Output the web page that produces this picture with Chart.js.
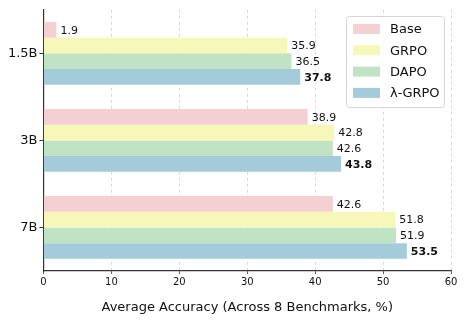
<!DOCTYPE html>
<html>
<head>
<meta charset="utf-8">
<script src="https://cdn.jsdelivr.net/npm/chart.js@4"></script>
<style>
  html, body { margin: 0; padding: 0; background: #fff; }
  #wrap { width: 465px; height: 325px; }
</style>
</head>
<body>
<div id="wrap"><canvas id="accuracy"></canvas></div>
<script>
const models = ['1.5B', '3B', '7B'];
const methods = ['Base', 'GRPO', 'DAPO', 'λ-GRPO'];
const baseAcc = [1.9, 38.9, 42.6];
const grpoAcc = [35.9, 42.8, 51.8];
const dapoAcc = [36.5, 42.6, 51.9];
const lambdaAcc = [37.8, 43.8, 53.5];
const xTicks = [0, 10, 20, 30, 40, 50, 60];
const colors = ['#f4d0d3', '#f7f7b9', '#c0e3c3', '#a3cbd9'];

const font = "'DejaVu Sans', sans-serif";
const ctx = document.getElementById('accuracy').getContext('2d');

// value labels next to each bar, last series in bold
const valueLabels = {
    id: 'valueLabels',
    afterDatasetsDraw(chart) {
        const c = chart.ctx;
        c.save();
        c.textBaseline = 'middle';
        c.textAlign = 'left';
        c.fillStyle = '#111';
        chart.data.datasets.forEach((ds, i) => {
            const meta = chart.getDatasetMeta(i);
            c.font = (i === 3 ? 'bold ' : '') + '11px ' + font;
            meta.data.forEach((bar, j) => {
                c.fillText(ds.data[j].toFixed(1), bar.x + 4, bar.y + 1);
            });
        });
        c.restore();
    }
};

// matplotlib style legend box in the upper right corner
const boxLegend = {
    id: 'boxLegend',
    afterDraw(chart) {
        const c = chart.ctx;
        const x = 346, y = 16, w = 98, h = 91;
        c.save();
        c.fillStyle = 'rgba(255,255,255,0.85)';
        c.strokeStyle = '#d6d6d6';
        c.lineWidth = 1;
        c.beginPath();
        c.roundRect(x + 0.5, y + 0.5, w, h, 3);
        c.fill();
        c.stroke();
        c.font = '13px ' + font;
        c.textBaseline = 'middle';
        chart.data.datasets.forEach((ds, i) => {
            const cy = y + 13 + i * 21.3;
            c.fillStyle = ds.backgroundColor;
            c.fillRect(x + 7, cy - 5, 27, 10);
            c.fillStyle = '#111';
            c.fillText(ds.label, x + 44, cy + 1);
        });
        c.restore();
    }
};

const series = [baseAcc, grpoAcc, dapoAcc, lambdaAcc];

new Chart(ctx, {
    type: 'bar',
    data: {
        labels: models,
        datasets: methods.map((m, i) => ({
            label: m,
            data: series[i],
            backgroundColor: colors[i],
            borderWidth: 0,
            categoryPercentage: 0.72,
            barPercentage: 1.0
        }))
    },
    options: {
        indexAxis: 'y',
        responsive: true,
        maintainAspectRatio: false,
        animation: false,
        layout: { padding: { top: 9, right: 14, left: 0, bottom: 0 } },
        plugins: {
            legend: { display: false },
            tooltip: { enabled: false }
        },
        scales: {
            x: {
                min: 0,
                max: 60,
                afterBuildTicks: s => { s.ticks = xTicks.map(v => ({ value: v })); },
                afterFit: s => { s.height = 54; },
                border: { display: true, color: '#333', width: 1.2, dash: [3, 3] },
                grid: {
                    color: ctx => ctx.tick && ctx.tick.value === 0 ? 'rgba(0,0,0,0)' : '#cfcfcf',
                    lineWidth: 0.8,
                    drawTicks: true,
                    tickLength: 3,
                    tickColor: '#333',
                    tickBorderDash: []
                },
                ticks: {
                    color: '#111',
                    font: { family: font, size: 10 },
                    padding: 2,
                    maxRotation: 0
                },
                title: {
                    display: true,
                    text: 'Average Accuracy (Across 8 Benchmarks, %)',
                    color: '#111',
                    font: { family: font, size: 13 },
                    padding: { top: 6, bottom: 10 }
                }
            },
            y: {
                afterFit: s => { s.width = 43.5; },
                border: { display: true, color: '#333', width: 1.2 },
                grid: {
                    display: true,
                    offset: false,
                    drawOnChartArea: false,
                    tickLength: 4,
                    tickColor: '#333'
                },
                ticks: {
                    color: '#111',
                    font: { family: font, size: 13 },
                    padding: 2
                }
            }
        }
    },
    plugins: [valueLabels, boxLegend]
});
</script>
</body>
</html>
